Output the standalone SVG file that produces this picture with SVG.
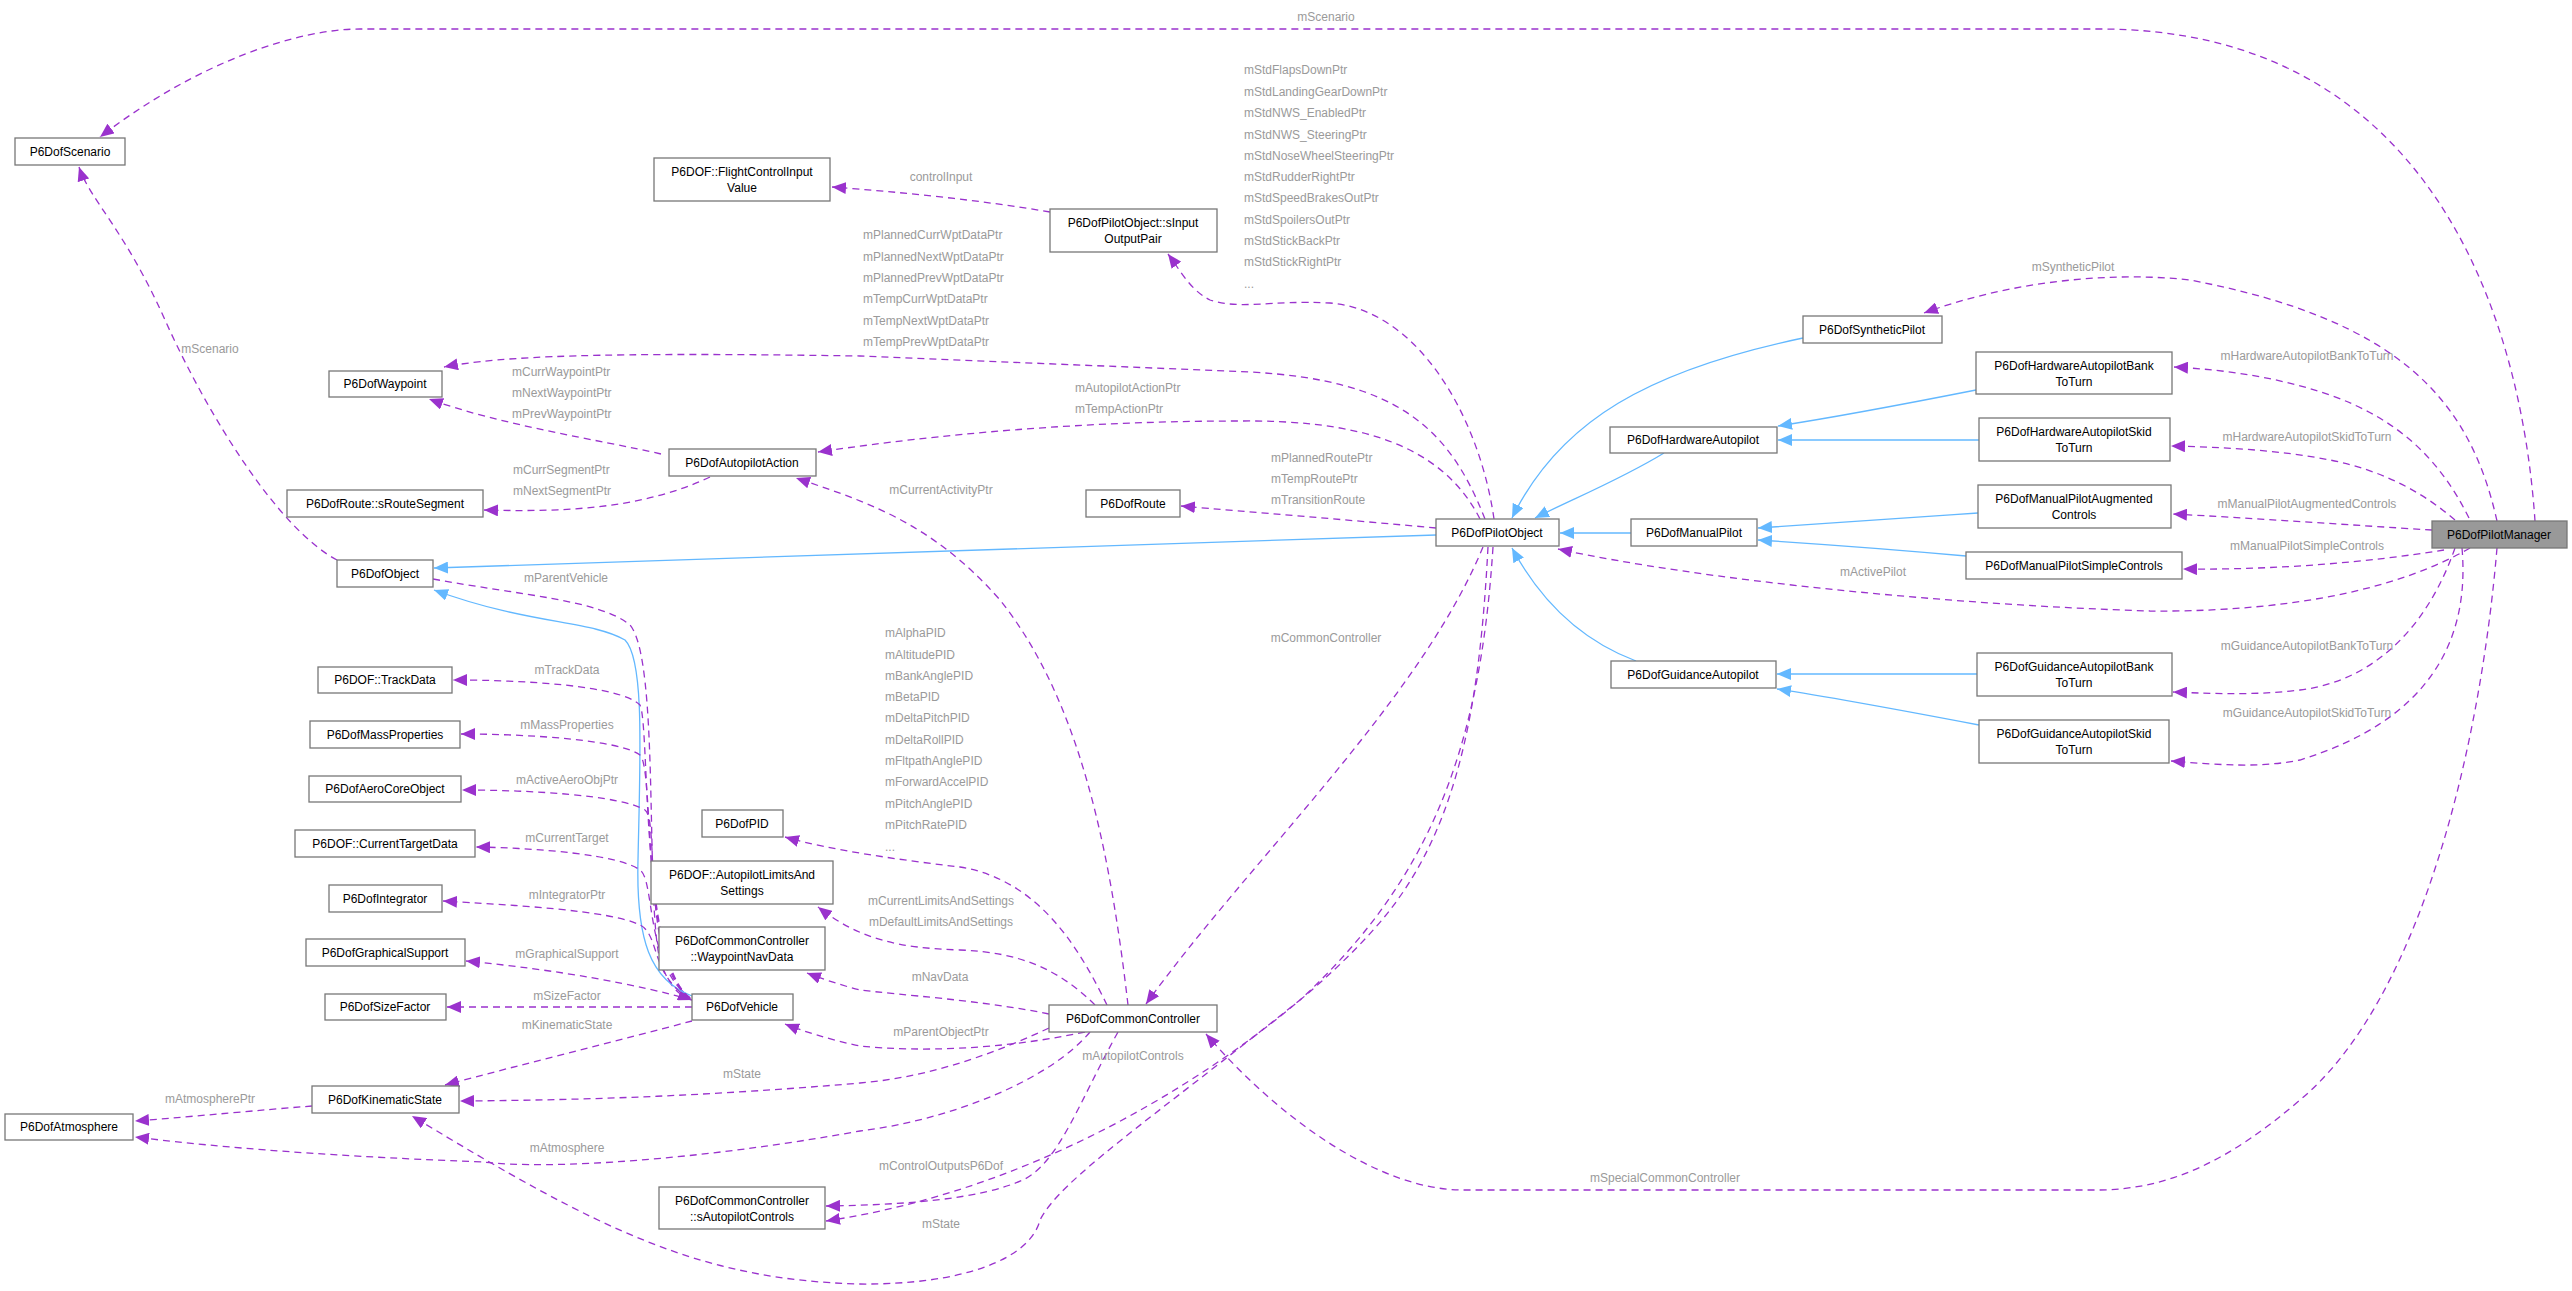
<svg xmlns="http://www.w3.org/2000/svg" width="2572" height="1291" viewBox="0 0 2572 1291">
<style>
.n rect{fill:#fff;stroke:#777;stroke-width:1.3}
.n text{font-family:"Liberation Sans",Arial,sans-serif;font-size:12px;fill:#000;text-anchor:middle}
.d{fill:none;stroke:#9a32cd;stroke-width:1.3;stroke-dasharray:7,5;marker-end:url(#pa)}
.b{fill:none;stroke:#63b8ff;stroke-width:1.3;marker-end:url(#ba)}
.l{font-family:"Liberation Sans",Arial,sans-serif;font-size:12px;fill:#9a9a9a}
.c{text-anchor:middle}
</style>
<defs>
<marker id="pa" markerUnits="userSpaceOnUse" markerWidth="16" markerHeight="12" refX="14" refY="6" orient="auto"><path d="M0,0 L14,6 L0,12 z" fill="#9a32cd"/></marker>
<marker id="ba" markerUnits="userSpaceOnUse" markerWidth="16" markerHeight="12" refX="14" refY="6" orient="auto"><path d="M0,0 L14,6 L0,12 z" fill="#63b8ff"/></marker>
</defs>
<rect width="2572" height="1291" fill="#fff"/>
<g id="edges">
<path class="d" d="M2535,521 C2520,300 2420,29 2100,29 L360,29 C300,29 200,60 100,137"/>
<path class="d" d="M337,560 C280,530 210,420 165,320 C125,230 90,200 79,167"/>
<path class="d" d="M1050,212 C980,200 900,192 832,187"/>
<path class="d" d="M1494,519 C1480,420 1420,310 1330,303 C1270,300 1240,310 1210,300 C1190,290 1180,270 1168,254"/>
<path class="d" d="M1485,519 C1450,430 1400,380 1250,372 L860,356 C600,352 500,356 444,367"/>
<path class="d" d="M1480,519 C1440,440 1350,420 1240,421 C1050,421 900,440 818,452"/>
<path class="d" d="M661,454 C600,440 500,425 429,399"/>
<path class="d" d="M710,477 C640,510 560,512 484,510"/>
<path class="d" d="M1128,1005 C1110,850 1080,700 1000,600 C930,520 860,500 796,478"/>
<path class="d" d="M1436,528 C1350,520 1250,512 1181,506"/>
<path class="d" d="M1483,547 C1420,700 1250,860 1146,1004"/>
<path class="d" d="M433,579 C520,595 600,600 630,625 C660,660 645,900 660,960 C670,990 680,995 692,1000"/>
<path class="b" d="M692,996 C650,980 636,940 638,860 C640,760 645,660 625,640 C590,620 530,625 434,590"/>
<path class="d" d="M690,998 C640,960 650,725 640,705 C620,685 520,680 453,680"/>
<path class="d" d="M690,998 C640,960 655,770 640,755 C620,740 530,734 461,734"/>
<path class="d" d="M690,998 C640,960 660,820 645,810 C620,795 530,790 462,790"/>
<path class="d" d="M690,998 C645,965 655,880 640,870 C620,855 540,848 476,847"/>
<path class="d" d="M690,999 C650,975 660,935 640,925 C610,910 510,905 443,901"/>
<path class="d" d="M692,1000 C640,985 560,970 466,961"/>
<path class="d" d="M692,1007 L447,1007"/>
<path class="d" d="M692,1021 C620,1040 520,1065 445,1085"/>
<path class="d" d="M312,1106 C260,1110 200,1116 135,1121"/>
<path class="d" d="M1049,1028 C980,1060 920,1078 860,1083 C720,1095 600,1100 460,1101"/>
<path class="d" d="M1090,1032 C1050,1080 950,1120 860,1131 C700,1160 550,1170 483,1162 C300,1155 200,1145 135,1137"/>
<path class="d" d="M1107,1005 C1080,950 1040,880 960,867 C900,860 830,850 785,837"/>
<path class="d" d="M1095,1005 C1060,970 1020,952 960,950 C900,948 860,940 818,907"/>
<path class="d" d="M1049,1014 C980,1000 900,995 860,990 C840,985 820,978 807,973"/>
<path class="d" d="M1085,1032 C1000,1050 920,1052 860,1046 C830,1040 800,1030 785,1024"/>
<path class="d" d="M1118,1032 C1080,1100 1060,1160 1025,1179 C980,1200 900,1205 826,1206"/>
<path class="d" d="M1488,547 C1480,700 1460,820 1390,910 C1320,1000 1100,1180 826,1221"/>
<path class="d" d="M1493,547 C1480,750 1430,880 1300,1000 C1150,1120 1060,1180 1040,1220 C1030,1260 960,1285 860,1284 C700,1280 600,1230 412,1116"/>
<path class="d" d="M2470,548 C2380,600 2250,612 2150,611 C1950,605 1700,580 1558,549"/>
<path class="d" d="M2497,521 C2470,400 2400,320 2190,280 C2100,270 2000,285 1924,313"/>
<path class="d" d="M2469,518 C2440,460 2400,420 2330,395 C2280,378 2230,370 2174,367"/>
<path class="d" d="M2455,520 C2420,490 2380,470 2330,460 C2280,450 2220,447 2171,446"/>
<path class="d" d="M2432,530 C2350,525 2250,518 2173,514"/>
<path class="d" d="M2444,550 C2370,562 2280,570 2183,569"/>
<path class="d" d="M2455,548 C2430,620 2380,680 2300,690 C2260,695 2220,694 2173,692"/>
<path class="d" d="M2462,548 C2470,640 2430,720 2300,760 C2260,768 2220,765 2171,761"/>
<path class="d" d="M2497,548 C2480,750 2420,1000 2300,1100 C2230,1160 2170,1190 2096,1190 L1463,1190 C1380,1190 1280,1120 1206,1034"/>
<path class="b" d="M1803,338 C1650,370 1560,420 1512,518"/>
<path class="b" d="M1664,453 C1620,480 1570,500 1535,518"/>
<path class="b" d="M1631,533 L1560,533"/>
<path class="b" d="M1636,661 C1580,640 1540,600 1512,548"/>
<path class="b" d="M1436,535 L434,568"/>
<path class="b" d="M1976,390 C1900,405 1830,418 1778,426"/>
<path class="b" d="M1979,440 L1778,440"/>
<path class="b" d="M1978,513 C1900,518 1820,524 1758,528"/>
<path class="b" d="M1966,556 C1900,550 1820,544 1758,540"/>
<path class="b" d="M1977,674 L1777,674"/>
<path class="b" d="M1979,725 C1900,710 1830,697 1777,689"/>
</g>
<g id="labels">
<text class="l c" x="1326" y="21">mScenario</text>
<text class="l c" x="210" y="353">mScenario</text>
<text class="l c" x="941" y="181">controlInput</text>
<text class="l" x="1244" y="74">mStdFlapsDownPtr</text>
<text class="l" x="1244" y="96">mStdLandingGearDownPtr</text>
<text class="l" x="1244" y="117">mStdNWS_EnabledPtr</text>
<text class="l" x="1244" y="139">mStdNWS_SteeringPtr</text>
<text class="l" x="1244" y="160">mStdNoseWheelSteeringPtr</text>
<text class="l" x="1244" y="181">mStdRudderRightPtr</text>
<text class="l" x="1244" y="202">mStdSpeedBrakesOutPtr</text>
<text class="l" x="1244" y="224">mStdSpoilersOutPtr</text>
<text class="l" x="1244" y="245">mStdStickBackPtr</text>
<text class="l" x="1244" y="266">mStdStickRightPtr</text>
<text class="l" x="1244" y="288">...</text>
<text class="l" x="863" y="239">mPlannedCurrWptDataPtr</text>
<text class="l" x="863" y="261">mPlannedNextWptDataPtr</text>
<text class="l" x="863" y="282">mPlannedPrevWptDataPtr</text>
<text class="l" x="863" y="303">mTempCurrWptDataPtr</text>
<text class="l" x="863" y="325">mTempNextWptDataPtr</text>
<text class="l" x="863" y="346">mTempPrevWptDataPtr</text>
<text class="l" x="512" y="376">mCurrWaypointPtr</text>
<text class="l" x="512" y="397">mNextWaypointPtr</text>
<text class="l" x="512" y="418">mPrevWaypointPtr</text>
<text class="l" x="513" y="474">mCurrSegmentPtr</text>
<text class="l" x="513" y="495">mNextSegmentPtr</text>
<text class="l" x="1075" y="392">mAutopilotActionPtr</text>
<text class="l" x="1075" y="413">mTempActionPtr</text>
<text class="l" x="1271" y="462">mPlannedRoutePtr</text>
<text class="l" x="1271" y="483">mTempRoutePtr</text>
<text class="l" x="1271" y="504">mTransitionRoute</text>
<text class="l c" x="941" y="494">mCurrentActivityPtr</text>
<text class="l c" x="566" y="582">mParentVehicle</text>
<text class="l c" x="1326" y="642">mCommonController</text>
<text class="l" x="885" y="637">mAlphaPID</text>
<text class="l" x="885" y="659">mAltitudePID</text>
<text class="l" x="885" y="680">mBankAnglePID</text>
<text class="l" x="885" y="701">mBetaPID</text>
<text class="l" x="885" y="722">mDeltaPitchPID</text>
<text class="l" x="885" y="744">mDeltaRollPID</text>
<text class="l" x="885" y="765">mFltpathAnglePID</text>
<text class="l" x="885" y="786">mForwardAccelPID</text>
<text class="l" x="885" y="808">mPitchAnglePID</text>
<text class="l" x="885" y="829">mPitchRatePID</text>
<text class="l" x="885" y="851">...</text>
<text class="l c" x="941" y="905">mCurrentLimitsAndSettings</text>
<text class="l c" x="941" y="926">mDefaultLimitsAndSettings</text>
<text class="l c" x="940" y="981">mNavData</text>
<text class="l c" x="941" y="1036">mParentObjectPtr</text>
<text class="l c" x="1133" y="1060">mAutopilotControls</text>
<text class="l c" x="941" y="1170">mControlOutputsP6Dof</text>
<text class="l c" x="941" y="1228">mState</text>
<text class="l c" x="1665" y="1182">mSpecialCommonController</text>
<text class="l c" x="567" y="674">mTrackData</text>
<text class="l c" x="567" y="729">mMassProperties</text>
<text class="l c" x="567" y="784">mActiveAeroObjPtr</text>
<text class="l c" x="567" y="842">mCurrentTarget</text>
<text class="l c" x="567" y="899">mIntegratorPtr</text>
<text class="l c" x="567" y="958">mGraphicalSupport</text>
<text class="l c" x="567" y="1000">mSizeFactor</text>
<text class="l c" x="567" y="1029">mKinematicState</text>
<text class="l c" x="742" y="1078">mState</text>
<text class="l c" x="210" y="1103">mAtmospherePtr</text>
<text class="l c" x="567" y="1152">mAtmosphere</text>
<text class="l c" x="2073" y="271">mSyntheticPilot</text>
<text class="l c" x="2307" y="360">mHardwareAutopilotBankToTurn</text>
<text class="l c" x="2307" y="441">mHardwareAutopilotSkidToTurn</text>
<text class="l c" x="2307" y="508">mManualPilotAugmentedControls</text>
<text class="l c" x="2307" y="550">mManualPilotSimpleControls</text>
<text class="l c" x="1873" y="576">mActivePilot</text>
<text class="l c" x="2307" y="650">mGuidanceAutopilotBankToTurn</text>
<text class="l c" x="2307" y="717">mGuidanceAutopilotSkidToTurn</text>
</g>
<g id="PilotManager" class="n"><rect x="2432" y="521" width="135" height="27" style="fill:#999"/><text x="2499" y="539">P6DofPilotManager</text></g>
<g id="Scenario" class="n"><rect x="15" y="138" width="110" height="27"/><text x="70" y="156">P6DofScenario</text></g>
<g id="FlightControlInputValue" class="n"><rect x="654" y="158" width="176" height="43"/><text x="742" y="176">P6DOF::FlightControlInput</text><text x="742" y="192">Value</text></g>
<g id="sInputOutputPair" class="n"><rect x="1050" y="209" width="167" height="43"/><text x="1133" y="227">P6DofPilotObject::sInput</text><text x="1133" y="243">OutputPair</text></g>
<g id="Waypoint" class="n"><rect x="329" y="371" width="113" height="26"/><text x="385" y="388">P6DofWaypoint</text></g>
<g id="AutopilotAction" class="n"><rect x="669" y="449" width="147" height="27"/><text x="742" y="467">P6DofAutopilotAction</text></g>
<g id="RouteSegment" class="n"><rect x="287" y="490" width="196" height="27"/><text x="385" y="508">P6DofRoute::sRouteSegment</text></g>
<g id="Route" class="n"><rect x="1086" y="490" width="94" height="27"/><text x="1133" y="508">P6DofRoute</text></g>
<g id="Object" class="n"><rect x="337" y="560" width="96" height="27"/><text x="385" y="578">P6DofObject</text></g>
<g id="PilotObject" class="n"><rect x="1436" y="519" width="123" height="27"/><text x="1497" y="537">P6DofPilotObject</text></g>
<g id="SyntheticPilot" class="n"><rect x="1803" y="316" width="139" height="27"/><text x="1872" y="334">P6DofSyntheticPilot</text></g>
<g id="HardwareAutopilot" class="n"><rect x="1610" y="427" width="167" height="26"/><text x="1693" y="444">P6DofHardwareAutopilot</text></g>
<g id="ManualPilot" class="n"><rect x="1631" y="519" width="126" height="27"/><text x="1694" y="537">P6DofManualPilot</text></g>
<g id="GuidanceAutopilot" class="n"><rect x="1611" y="661" width="165" height="27"/><text x="1693" y="679">P6DofGuidanceAutopilot</text></g>
<g id="HWAPBankToTurn" class="n"><rect x="1976" y="352" width="196" height="42"/><text x="2074" y="370">P6DofHardwareAutopilotBank</text><text x="2074" y="386">ToTurn</text></g>
<g id="HWAPSkidToTurn" class="n"><rect x="1979" y="418" width="191" height="43"/><text x="2074" y="436">P6DofHardwareAutopilotSkid</text><text x="2074" y="452">ToTurn</text></g>
<g id="ManualPilotAugmentedControls" class="n"><rect x="1978" y="485" width="193" height="43"/><text x="2074" y="503">P6DofManualPilotAugmented</text><text x="2074" y="519">Controls</text></g>
<g id="ManualPilotSimpleControls" class="n"><rect x="1966" y="552" width="216" height="27"/><text x="2074" y="570">P6DofManualPilotSimpleControls</text></g>
<g id="GuidanceBankToTurn" class="n"><rect x="1977" y="653" width="195" height="43"/><text x="2074" y="671">P6DofGuidanceAutopilotBank</text><text x="2074" y="687">ToTurn</text></g>
<g id="GuidanceSkidToTurn" class="n"><rect x="1979" y="720" width="190" height="43"/><text x="2074" y="738">P6DofGuidanceAutopilotSkid</text><text x="2074" y="754">ToTurn</text></g>
<g id="TrackData" class="n"><rect x="318" y="667" width="134" height="26"/><text x="385" y="684">P6DOF::TrackData</text></g>
<g id="MassProperties" class="n"><rect x="310" y="721" width="150" height="27"/><text x="385" y="739">P6DofMassProperties</text></g>
<g id="AeroCoreObject" class="n"><rect x="309" y="776" width="152" height="26"/><text x="385" y="793">P6DofAeroCoreObject</text></g>
<g id="CurrentTargetData" class="n"><rect x="295" y="830" width="180" height="27"/><text x="385" y="848">P6DOF::CurrentTargetData</text></g>
<g id="Integrator" class="n"><rect x="329" y="885" width="113" height="27"/><text x="385" y="903">P6DofIntegrator</text></g>
<g id="GraphicalSupport" class="n"><rect x="306" y="939" width="159" height="27"/><text x="385" y="957">P6DofGraphicalSupport</text></g>
<g id="SizeFactor" class="n"><rect x="325" y="994" width="121" height="26"/><text x="385" y="1011">P6DofSizeFactor</text></g>
<g id="Vehicle" class="n"><rect x="692" y="994" width="101" height="26"/><text x="742" y="1011">P6DofVehicle</text></g>
<g id="KinematicState" class="n"><rect x="312" y="1086" width="147" height="27"/><text x="385" y="1104">P6DofKinematicState</text></g>
<g id="Atmosphere" class="n"><rect x="5" y="1114" width="128" height="26"/><text x="69" y="1131">P6DofAtmosphere</text></g>
<g id="PID" class="n"><rect x="702" y="810" width="81" height="27"/><text x="742" y="828">P6DofPID</text></g>
<g id="AutopilotLimitsAndSettings" class="n"><rect x="651" y="861" width="182" height="43"/><text x="742" y="879">P6DOF::AutopilotLimitsAnd</text><text x="742" y="895">Settings</text></g>
<g id="WaypointNavData" class="n"><rect x="659" y="927" width="166" height="43"/><text x="742" y="945">P6DofCommonController</text><text x="742" y="961">::WaypointNavData</text></g>
<g id="sAutopilotControls" class="n"><rect x="659" y="1187" width="166" height="42"/><text x="742" y="1205">P6DofCommonController</text><text x="742" y="1221">::sAutopilotControls</text></g>
<g id="CommonController" class="n"><rect x="1049" y="1005" width="168" height="27"/><text x="1133" y="1023">P6DofCommonController</text></g>
</svg>
